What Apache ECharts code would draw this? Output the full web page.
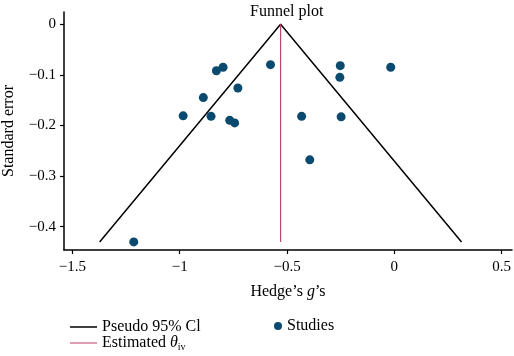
<!DOCTYPE html>
<html><head><meta charset="utf-8">
<script src="https://cdn.jsdelivr.net/npm/echarts@6/dist/echarts.min.js"></script>
<style>html,body{margin:0;padding:0;background:#fff}#c{width:514px;height:356px}</style>
</head><body><div id="c"></div>
<script>
var studyG = [-0.984,-0.890,-0.854,-0.829,-0.798,-0.729,-0.767,-0.744,-0.577,-0.252,-0.254,-0.017,-0.432,-0.248,-0.394,-1.214];
var studySE = [-0.181,-0.145,-0.182,-0.092,-0.085,-0.126,-0.190,-0.195,-0.080,-0.082,-0.105,-0.085,-0.182,-0.183,-0.268,-0.430];
var funnelX = [-1.373,-0.53,0.313];
var funnelY = [-0.43,0,-0.43];
var estX = [-0.53,-0.53];
var estY = [0,-0.43];
var xTicks = [-1.5,-1,-0.5,0,0.5];
var yTicks = [0,-0.1,-0.2,-0.3,-0.4];

var F = 'Liberation Serif';
function zip(a,b){return a.map(function(v,i){return [v,b[i]];});}
function fmt(v){return String(v).replace('-', '\u2212');}
var chart = echarts.init(document.getElementById('c'));
var lt = {fontFamily:F,fontSize:16,color:'#000'};
chart.setOption({
  animation:false,
  textStyle:{fontFamily:F},
  title:{text:'Funnel plot',left:245,top:-1,textStyle:{fontFamily:F,fontSize:16,fontWeight:'normal',color:'#000'}},
  grid:{left:64,right:2,top:12,bottom:106,outerBoundsMode:'none',containLabel:false},
  xAxis:{type:'value',min:-1.539,max:0.548,
    name:'Hedge\u2019s {i|g}\u2019s',nameLocation:'middle',nameGap:34,
    nameTextStyle:{fontFamily:F,fontSize:16,color:'#000',rich:{i:{fontFamily:F,fontStyle:'italic',fontSize:16,color:'#000'}}},
    axisLine:{onZero:false,lineStyle:{color:'#000',width:1.5}},
    axisTick:{show:true,length:4,lineStyle:{color:'#000',width:1.2},customValues:xTicks},
    axisLabel:{fontFamily:F,fontSize:15,color:'#000',margin:10,formatter:fmt,customValues:xTicks},
    splitLine:{show:false}},
  yAxis:{type:'value',min:-0.446,max:0.024,
    name:'Standard error',nameLocation:'middle',nameGap:47,
    nameTextStyle:{fontFamily:F,fontSize:16,color:'#000'},
    axisLine:{show:true,onZero:false,lineStyle:{color:'#000',width:1.5}},
    axisTick:{show:true,length:4,lineStyle:{color:'#000',width:1.2},customValues:yTicks},
    axisLabel:{fontFamily:F,fontSize:15,color:'#000',margin:8,formatter:fmt,customValues:yTicks},
    splitLine:{show:false}},
  legend:[
    {left:65,top:314,itemWidth:27,itemHeight:1.5,itemGap:10,textStyle:lt,
     data:[{name:'Pseudo 95% Cl',icon:'rect'}]},
    {left:65,top:330,itemWidth:27,itemHeight:1.5,itemGap:10,
     textStyle:{fontFamily:F,fontSize:16,color:'#000',rich:{t:{fontFamily:F,fontStyle:'italic',fontSize:16,color:'#000'},s:{fontFamily:F,fontSize:10,color:'#000',padding:[8,0,0,0]}}},
     formatter:function(n){return 'Estimated {t|\u03b8}{s|iv}';},
     data:[{name:'Estimated',icon:'rect'}]},
    {left:269,top:313,itemWidth:8,itemHeight:8,itemGap:10,textStyle:lt,
     data:[{name:'Studies',icon:'circle'}]}
  ],
  series:[
    {name:'Pseudo 95% Cl',type:'line',data:zip(funnelX,funnelY),showSymbol:false,symbol:'none',lineStyle:{color:'#000',width:1.5},itemStyle:{color:'#000'}},
    {name:'Estimated',type:'line',data:zip(estX,estY),showSymbol:false,symbol:'none',lineStyle:{color:'#c0466c',width:1.2},itemStyle:{color:'#d47d9a'}},
    {name:'Studies',type:'scatter',data:zip(studyG,studySE),symbolSize:9,itemStyle:{color:'#0b4a6f',opacity:1}}
  ]
});
</script></body></html>
